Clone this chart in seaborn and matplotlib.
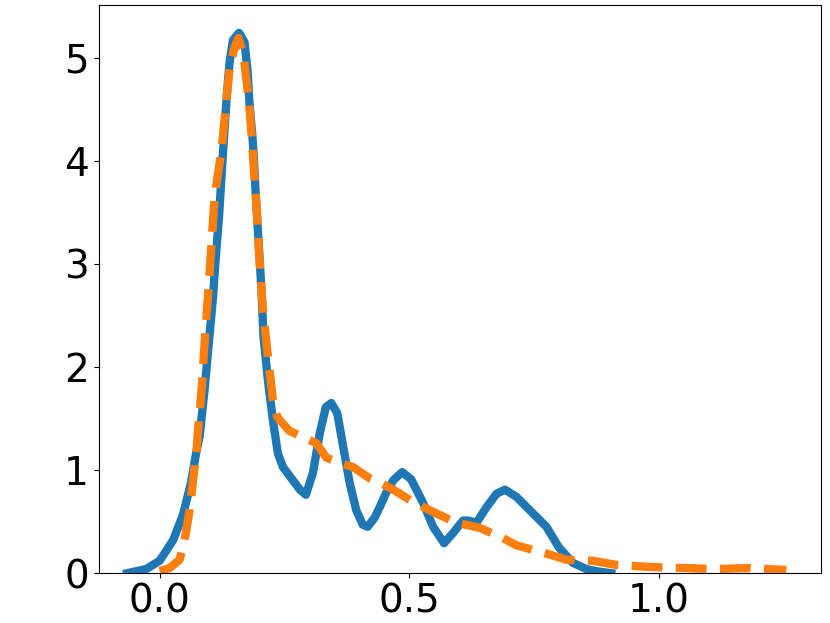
import matplotlib
matplotlib.use("Agg")
import matplotlib.pyplot as plt
import seaborn as sns

# ---- values ----------------------------------------------------------------

# blue solid curve
blue_x = [-0.065, -0.027, 0.0, 0.027, 0.047, 0.063, 0.074, 0.08, 0.09, 0.099,
          0.107, 0.111, 0.119, 0.126, 0.130, 0.135, 0.14, 0.147, 0.159, 0.17,
          0.176, 0.18, 0.186, 0.189, 0.192, 0.198, 0.204, 0.208, 0.217, 0.227,
          0.237, 0.247, 0.267, 0.281, 0.293, 0.307, 0.321, 0.333, 0.344, 0.356,
          0.368, 0.381, 0.394, 0.407, 0.417, 0.431, 0.441, 0.454, 0.468, 0.486,
          0.504, 0.528, 0.548, 0.57, 0.588, 0.608, 0.618, 0.635, 0.655, 0.675,
          0.692, 0.715, 0.748, 0.775, 0.80, 0.828, 0.855, 0.88, 0.905]
blue_y = [0.0, 0.04, 0.12, 0.32, 0.57, 0.88, 1.19, 1.32, 1.78, 2.26,
          2.68, 2.97, 3.46, 4.01, 4.3, 4.66, 4.95, 5.17, 5.24, 5.15,
          4.88, 4.56, 4.23, 4.01, 3.72, 3.23, 2.75, 2.3, 1.87, 1.48,
          1.16, 1.03, 0.9, 0.81, 0.76, 0.97, 1.36, 1.61, 1.65, 1.55,
          1.22, 0.87, 0.61, 0.47, 0.45, 0.54, 0.64, 0.78, 0.9, 0.98,
          0.91, 0.68, 0.45, 0.29, 0.39, 0.51, 0.51, 0.49, 0.64, 0.77,
          0.81, 0.74, 0.58, 0.45, 0.25, 0.1, 0.04, 0.015, 0.0]

# orange dashed curve
orange_x = [0.0, 0.02, 0.04, 0.05, 0.06, 0.067, 0.074, 0.077, 0.084, 0.09,
            0.097, 0.104, 0.11, 0.124, 0.134, 0.14, 0.15, 0.158, 0.168, 0.176,
            0.182, 0.188, 0.195, 0.2, 0.207, 0.217, 0.227, 0.236, 0.26, 0.287,
            0.314, 0.334, 0.361, 0.387, 0.421, 0.441, 0.468, 0.508, 0.554, 0.594,
            0.641, 0.688, 0.715, 0.775, 0.815, 0.868, 0.915, 0.982, 1.049, 1.115,
            1.182, 1.256]
orange_y = [0.02, 0.05, 0.13, 0.32, 0.61, 0.9, 1.19, 1.39, 1.78, 2.23,
            2.7, 3.2, 3.65, 4.1, 4.6, 4.88, 5.1, 5.19, 5.02, 4.7,
            4.4, 3.98, 3.49, 3.04, 2.55, 2.1, 1.68, 1.51, 1.38, 1.32,
            1.26, 1.12, 1.07, 1.03, 0.92, 0.88, 0.81, 0.69, 0.58, 0.49,
            0.44, 0.34, 0.27, 0.19, 0.13, 0.12, 0.08, 0.06, 0.05, 0.04,
            0.05, 0.03]

x_ticks = [0.0, 0.5, 1.0]
y_ticks = [0, 1, 2, 3, 4, 5]


# ---- draw -------------------------------------------------------------------

fig, ax = plt.subplots(figsize=(8.3, 6.23), dpi=100)
fig.subplots_adjust(left=0.119, right=0.989, bottom=0.08, top=0.992)

sns.lineplot(x=blue_x, y=blue_y, ax=ax, color="#1f77b4", linewidth=6,
             solid_joinstyle="round")
sns.lineplot(x=orange_x, y=orange_y, ax=ax, color="#ff7f0e", linewidth=6,
             linestyle="--", dash_joinstyle="round")

ax.set_xlim(-0.122, 1.325)
ax.set_ylim(0, 5.51)
ax.set_xticks(x_ticks)
ax.set_yticks(y_ticks)
ax.tick_params(labelsize=28)

plt.savefig("out.png", dpi=100)
plt.close()
